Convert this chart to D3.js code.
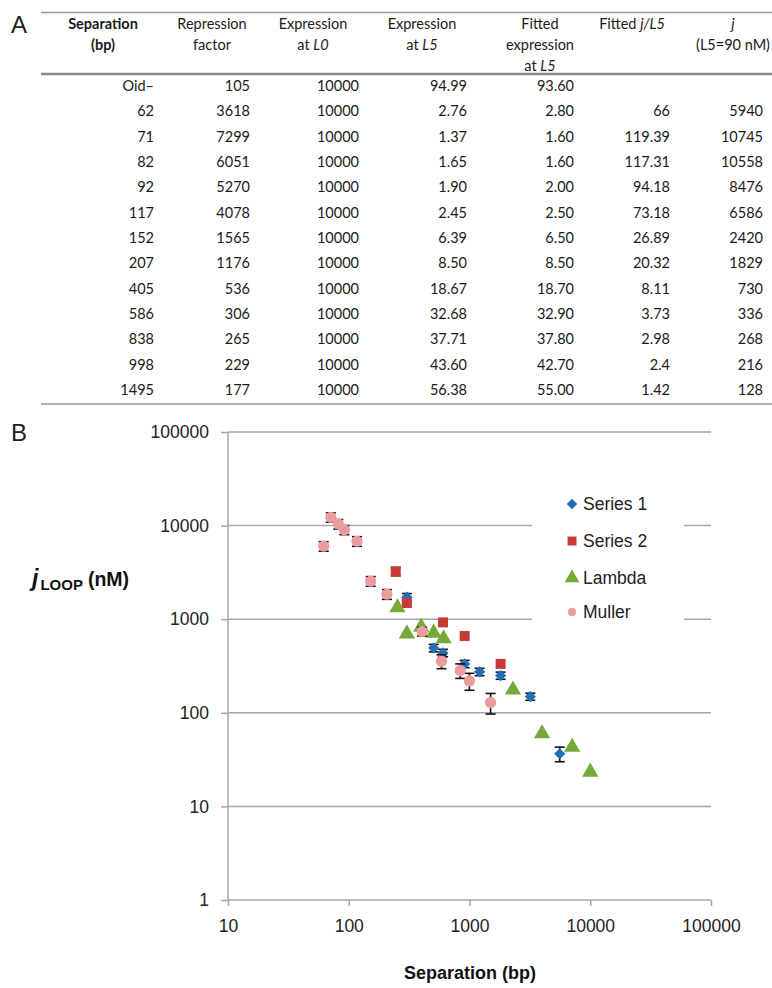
<!DOCTYPE html>
<html>
<head>
<meta charset="utf-8">
<script src="https://cdn.jsdelivr.net/npm/d3@7"></script>
<style>
  body { margin: 0; background: #fff; }
  svg { display: block; }
</style>
</head>
<body>
<div id="chart"></div>
<script>
// table A
const separationRows = ['Oid\u2013', '62', '71', '82', '92', '117', '152', '207', '405', '586', '838', '998', '1495']
const repressionFactor = ['105', '3618', '7299', '6051', '5270', '4078', '1565', '1176', '536', '306', '265', '229', '177']
const expressionL0 = ['10000', '10000', '10000', '10000', '10000', '10000', '10000', '10000', '10000', '10000', '10000', '10000', '10000']
const expressionL5 = ['94.99', '2.76', '1.37', '1.65', '1.90', '2.45', '6.39', '8.50', '18.67', '32.68', '37.71', '43.60', '56.38']
const fittedExpression = ['93.60', '2.80', '1.60', '1.60', '2.00', '2.50', '6.50', '8.50', '18.70', '32.90', '37.80', '42.70', '55.00']
const fittedJL5 = ['', '66', '119.39', '117.31', '94.18', '73.18', '26.89', '20.32', '8.11', '3.73', '2.98', '2.4', '1.42']
const jValues = ['', '5940', '10745', '10558', '8476', '6586', '2420', '1829', '730', '336', '268', '216', '128']

// chart B
const series1Sep = [303, 505, 603, 912, 1213, 1810, 3190, 5590]
const series1J = [1720, 493, 436, 333, 274, 250, 149, 36.5]
const series1Err = [160, 45, 40, 30, 25, 22, 13, 6.5]

const series2Sep = [245, 303, 603, 912, 1810]
const series2J = [3240, 1490, 925, 661, 333]
const series2Err = [330, 0, 0, 0, 0]

const lambdaSep = [253, 303, 398, 505, 610, 2290, 3990, 7080, 10000]
const lambdaJ = [1330, 700, 826, 713, 620, 176, 60, 43, 23.3]

const mullerSep = [62, 71, 82, 92, 117, 152, 207, 405, 586, 838, 998, 1495]
const mullerJ = [6030, 12270, 10400, 9000, 6810, 2550, 1850, 741, 356, 283, 219, 129]
const mullerErr = [700, 1400, 1200, 1000, 800, 300, 220, 80, 60, 50, 45, 32]

const tickValues = [1, 10, 100, 1000, 10000, 100000]
const xTickValues = [10, 100, 1000, 10000, 100000]
const legendNames = ['Series 1', 'Series 2', 'Lambda', 'Muller']

const w = 772
const h = 988

const svg = d3.select('#chart')
  .append('svg')
  .attr('width', w)
  .attr('height', h)

const tableFont = 'Lato, "Open Sans", sans-serif'
const chartFont = '"Liberation Sans", Arial, sans-serif'

// ---------- panel A: table ----------
svg.append('text')
  .attr('x', 11).attr('y', 33)
  .attr('font-family', chartFont)
  .attr('font-size', 24)
  .attr('fill', '#222')
  .text('A')

svg.append('line')
  .attr('x1', 41).attr('x2', w).attr('y1', 12.5).attr('y2', 12.5)
  .attr('stroke', '#999').attr('stroke-width', 1.5)
svg.append('line')
  .attr('x1', 41).attr('x2', w).attr('y1', 74).attr('y2', 74)
  .attr('stroke', '#888').attr('stroke-width', 2.5)
svg.append('line')
  .attr('x1', 41).attr('x2', w).attr('y1', 404).attr('y2', 404)
  .attr('stroke', '#999').attr('stroke-width', 1.5)

const headerLines = [29, 50, 71]
const headers = [
  { cx: 103, bold: true, lines: [[['Separation', false]], [['(bp)', false]]] },
  { cx: 212, lines: [[['Repression', false]], [['factor', false]]] },
  { cx: 313, lines: [[['Expression', false]], [['at ', false], ['L0', true]]] },
  { cx: 422, lines: [[['Expression', false]], [['at ', false], ['L5', true]]] },
  { cx: 540, lines: [[['Fitted', false]], [['expression', false]], [['at ', false], ['L5', true]]] },
  { cx: 632, lines: [[['Fitted ', false], ['j/L5', true]]] },
  { cx: 733, lines: [[['j', true]], [['(L5=90 nM)', false]]] }
]

headers.forEach(hd => {
  hd.lines.forEach((parts, i) => {
    const t = svg.append('text')
      .attr('x', hd.cx).attr('y', headerLines[i])
      .attr('text-anchor', 'middle')
      .attr('font-family', tableFont)
      .attr('font-size', 14.5)
      .attr('font-weight', hd.bold ? 'bold' : 'normal')
      .attr('fill', '#1a1a1a')
    parts.forEach(p => {
      t.append('tspan').attr('font-style', p[1] ? 'italic' : 'normal').text(p[0])
    })
  })
})

const columns = [separationRows, repressionFactor, expressionL0, expressionL5, fittedExpression, fittedJL5, jValues]
const colRight = [154, 250, 359, 467, 574, 670, 763]
const rowY = d3.scaleLinear().domain([0, 12]).range([91, 395])

columns.forEach((col, c) => {
  svg.append('g').selectAll('text')
    .data(col)
    .enter()
    .append('text')
    .attr('x', colRight[c])
    .attr('y', (d, i) => rowY(i))
    .attr('text-anchor', 'end')
    .attr('font-family', tableFont)
    .attr('font-size', 14.5)
    .attr('fill', '#1a1a1a')
    .text(d => d)
})

// ---------- panel B: chart ----------
svg.append('text')
  .attr('x', 11).attr('y', 441)
  .attr('font-family', chartFont)
  .attr('font-size', 24)
  .attr('fill', '#222')
  .text('B')

const margin = { left: 228, right: 711, top: 432, bottom: 900 }

const xScale = d3.scaleLog()
  .domain([10, 100000])
  .range([margin.left, margin.right])

const yScale = d3.scaleLog()
  .domain([1, 100000])
  .range([margin.bottom, margin.top])

const gridColor = '#a6a6a6'

// gridlines
svg.append('g').selectAll('line')
  .data(tickValues.slice(1))
  .enter()
  .append('line')
  .attr('x1', margin.left).attr('x2', margin.right)
  .attr('y1', d => yScale(d)).attr('y2', d => yScale(d))
  .attr('stroke', gridColor).attr('stroke-width', 1.5)

const yAxis = d3.axisLeft(yScale)
  .tickValues(tickValues)
  .tickFormat(d3.format('d'))
  .tickSize(7)
  .tickPadding(12)

const xAxis = d3.axisBottom(xScale)
  .tickValues(xTickValues)
  .tickFormat(d3.format('d'))
  .tickSize(6)
  .tickPadding(14)

const gy = svg.append('g')
  .attr('transform', 'translate(' + margin.left + ',0)')
  .call(yAxis)
const gx = svg.append('g')
  .attr('transform', 'translate(0,' + margin.bottom + ')')
  .call(xAxis)

;[gx, gy].forEach(g => {
  g.selectAll('path, line').attr('stroke', gridColor).attr('stroke-width', 1.5)
  g.select('.domain').attr('d', g === gx
    ? 'M' + margin.left + ',0H' + margin.right
    : 'M0,' + margin.bottom + 'V' + margin.top)
  g.selectAll('text')
    .attr('font-family', chartFont)
    .attr('font-size', 17.5)
    .attr('fill', '#222')
})

// axis titles
const yTitle = svg.append('text')
  .attr('x', 32).attr('y', 586)
  .attr('font-family', chartFont)
  .attr('font-weight', 'bold')
  .attr('fill', '#111')
yTitle.append('tspan').attr('font-size', 23).attr('font-style', 'italic').text('j')
yTitle.append('tspan').attr('font-size', 15).attr('dy', 4).attr('dx', 2).text('LOOP')
yTitle.append('tspan').attr('font-size', 19.5).attr('dy', -4).attr('dx', 5).text('(nM)')

svg.append('text')
  .attr('x', 470).attr('y', 979)
  .attr('text-anchor', 'middle')
  .attr('font-family', chartFont)
  .attr('font-weight', 'bold')
  .attr('font-size', 18)
  .attr('fill', '#111')
  .text('Separation (bp)')

// legend box hides gridlines
svg.append('rect')
  .attr('x', 532).attr('y', 488)
  .attr('width', 152).attr('height', 142)
  .attr('fill', '#fff')

const colors = ['#1f70b8', '#c93a36', '#77a83a', '#eb9c9c']
const shapes = [
  d3.symbol().type(d3.symbolDiamond2).size(80),
  d3.symbol().type(d3.symbolSquare).size(100),
  d3.symbol().type(d3.symbolTriangle).size(115),
  d3.symbol().type(d3.symbolCircle).size(100)
]

function drawErrors(sep, val, err) {
  const g = svg.append('g').attr('stroke', '#111').attr('stroke-width', 1.6)
  sep.forEach((s, i) => {
    if (!err[i]) return
    const x = xScale(s)
    const y1 = yScale(val[i] + err[i])
    const y2 = yScale(val[i] - err[i])
    g.append('line').attr('x1', x).attr('x2', x).attr('y1', y1).attr('y2', y2)
    g.append('line').attr('x1', x - 5).attr('x2', x + 5).attr('y1', y1).attr('y2', y1)
    g.append('line').attr('x1', x - 5).attr('x2', x + 5).attr('y1', y2).attr('y2', y2)
  })
}

function drawSeries(sep, val, idx) {
  svg.append('g').selectAll('path')
    .data(sep)
    .enter()
    .append('path')
    .attr('d', shapes[idx])
    .attr('transform', (d, i) => 'translate(' + xScale(d) + ',' + yScale(val[i]) + ')')
    .attr('fill', colors[idx])
}

drawErrors(series1Sep, series1J, series1Err)
drawSeries(series1Sep, series1J, 0)
drawErrors(series2Sep, series2J, series2Err)
drawSeries(series2Sep, series2J, 1)
drawSeries(lambdaSep, lambdaJ, 2)
drawErrors(mullerSep, mullerJ, mullerErr)
drawSeries(mullerSep, mullerJ, 3)

// legend
const legendY = [504, 541, 578, 612]
const legendSize = [70, 80, 95, 55]
legendNames.forEach((name, i) => {
  svg.append('path')
    .attr('d', d3.symbol().type(shapes[i].type()).size(legendSize[i]))
    .attr('transform', 'translate(572,' + legendY[i] + ')')
    .attr('fill', colors[i])
  svg.append('text')
    .attr('x', 583).attr('y', legendY[i] + 6)
    .attr('font-family', chartFont)
    .attr('font-size', 17.5)
    .attr('fill', '#222')
    .text(name)
})
</script>
</body>
</html>
